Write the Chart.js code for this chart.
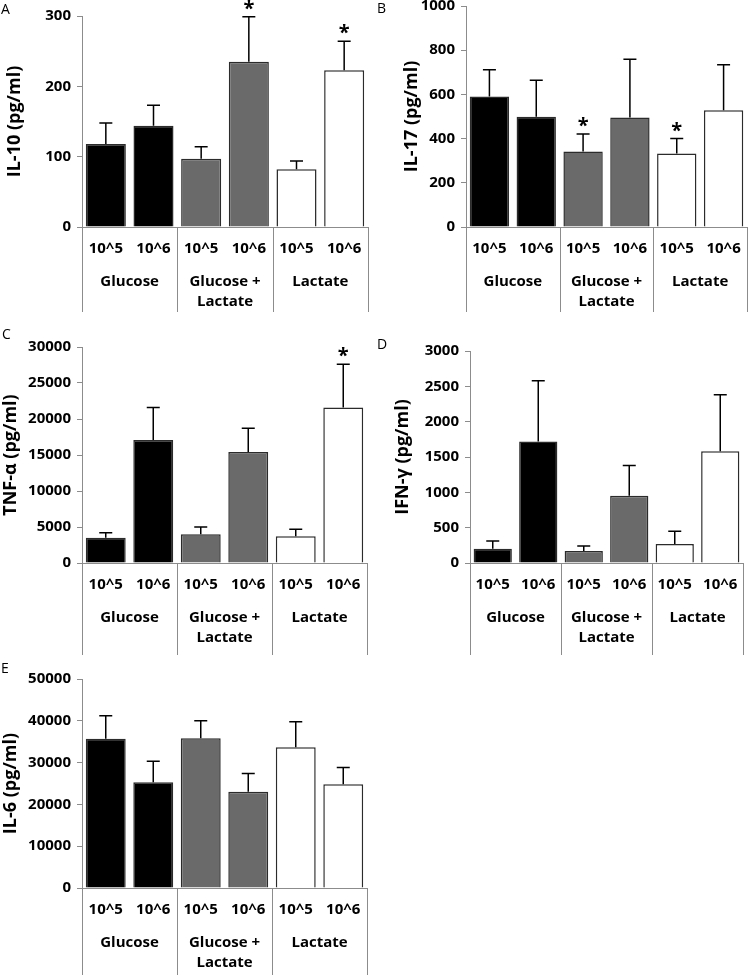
<!DOCTYPE html>
<html>
<head>
<meta charset="utf-8">
<script src="https://cdn.jsdelivr.net/npm/chart.js@4.4.0/dist/chart.umd.min.js"></script>
<style>
  body { margin: 0; background: #fff; }
  #wrap { position: relative; width: 750px; height: 975px; overflow: hidden; }
  canvas { position: absolute; }
</style>
</head>
<body>
<div id="wrap"></div>
<script>
// categories
const doseLabels = ['10^5', '10^6', '10^5', '10^6', '10^5', '10^6'];
const groupNames = [['Glucose'], ['Glucose +', 'Lactate'], ['Lactate']];

// A - IL-10
const il10Mean = [118, 144, 97, 235, 82, 223];
const il10Err  = [30, 29, 17, 64, 12, 41];
const il10Star = [0, 0, 0, 1, 0, 1];

// B - IL-17
const il17Mean = [590, 499, 342, 495, 333, 528];
const il17Err  = [122, 165, 79, 264, 67, 206];
const il17Star = [0, 0, 1, 0, 1, 0];

// C - TNF-a
const tnfMean = [3500, 17100, 4000, 15400, 3700, 21600];
const tnfErr  = [700, 4500, 1000, 3300, 1000, 6000];
const tnfStar = [0, 0, 0, 0, 0, 1];

// D - IFN-g
const ifnMean = [200, 1720, 170, 950, 270, 1580];
const ifnErr  = [110, 860, 70, 430, 180, 800];
const ifnStar = [0, 0, 0, 0, 0, 0];

// E - IL-6
const il6Mean = [35700, 25300, 35800, 23000, 33700, 24800];
const il6Err  = [5500, 5000, 4200, 4400, 6100, 4000];
const il6Star = [0, 0, 0, 0, 0, 0];

const barColors = ['#000000', '#000000', '#6a6a6a', '#6a6a6a', '#ffffff', '#ffffff'];
const axisGray = '#8c8c8c';
const FONT = "'Open Sans', 'DejaVu Sans', sans-serif";

// panel placement on the page
const panels = [
  { letter: 'A', title: 'IL-10 (pg/ml)', mean: il10Mean, err: il10Err, star: il10Star, max: 300, step: 100,
    left: 0, top: 0, w: 375, h: 320, area: { l: 82, r: 368, t: 16, b: 227 }, padL: 4, sep: 85, letterPos: [1, 14] },
  { letter: 'B', title: 'IL-17 (pg/ml)', mean: il17Mean, err: il17Err, star: il17Star, max: 1000, step: 200,
    left: 375, top: 0, w: 375, h: 320, area: { l: 91, r: 372, t: 6, b: 227 }, padL: 26, sep: 85, letterPos: [2, 13] },
  { letter: 'C', title: 'TNF-α (pg/ml)', mean: tnfMean, err: tnfErr, star: tnfStar, max: 30000, step: 5000,
    left: 0, top: 320, w: 375, h: 335, area: { l: 82, r: 367, t: 27, b: 243 }, padL: 0, sep: 92, letterPos: [2, 19] },
  { letter: 'D', title: 'IFN-γ (pg/ml)', mean: ifnMean, err: ifnErr, star: ifnStar, max: 3000, step: 500,
    left: 375, top: 320, w: 375, h: 335, area: { l: 95, r: 368, t: 31, b: 243 }, padL: 17, sep: 92, letterPos: [2, 29] },
  { letter: 'E', title: 'IL-6 (pg/ml)', mean: il6Mean, err: il6Err, star: il6Star, max: 50000, step: 10000,
    left: 0, top: 650, w: 375, h: 325, area: { l: 82, r: 367, t: 29, b: 238 }, padL: 0, sep: 90, letterPos: [1, 23] }
];

// error bars, asterisks, group separators and labels
function makeExtras(p) {
  return {
    id: 'extras',
    afterDatasetsDraw(chart) {
      const ctx = chart.ctx, y = chart.scales.y;
      const bars = chart.getDatasetMeta(0).data;
      ctx.save();
      ctx.strokeStyle = '#000';
      ctx.lineWidth = 1.5;
      bars.forEach((bar, i) => {
        const top = y.getPixelForValue(p.mean[i] + p.err[i]);
        ctx.beginPath();
        ctx.moveTo(bar.x, bar.y);
        ctx.lineTo(bar.x, top);
        ctx.moveTo(bar.x - 6.5, top);
        ctx.lineTo(bar.x + 6.5, top);
        ctx.stroke();
        if (p.star[i]) {
          ctx.fillStyle = '#000';
          ctx.font = 'bold 20px ' + FONT;
          ctx.textAlign = 'center';
          ctx.textBaseline = 'alphabetic';
          ctx.fillText('*', bar.x, top - 2);
        }
      });
      ctx.restore();
    },
    afterDraw(chart) {
      const ctx = chart.ctx, x = chart.scales.x, area = chart.chartArea;
      ctx.save();
      ctx.strokeStyle = axisGray;
      ctx.lineWidth = 1;
      [-0.5, 1.5, 3.5, 5.5].forEach(v => {
        const px = Math.round(x.getPixelForValue(v)) + 0.5;
        ctx.beginPath();
        ctx.moveTo(px, area.bottom);
        ctx.lineTo(px, area.bottom + p.sep);
        ctx.stroke();
      });
      ctx.fillStyle = '#000';
      ctx.font = 'bold 15px ' + FONT;
      ctx.textAlign = 'center';
      ctx.textBaseline = 'middle';
      groupNames.forEach((lines, g) => {
        const cx = x.getPixelForValue(2 * g + 0.5);
        lines.forEach((t, k) => ctx.fillText(t, cx, area.bottom + 55 + 20 * k));
      });
      ctx.font = '14px ' + FONT;
      ctx.textAlign = 'left';
      ctx.textBaseline = 'alphabetic';
      ctx.fillText(p.letter, p.letterPos[0], p.letterPos[1]);
      ctx.restore();
    }
  };
}

const wrap = document.getElementById('wrap');
panels.forEach(p => {
  const c = document.createElement('canvas');
  c.width = p.w; c.height = p.h;
  c.style.left = p.left + 'px';
  c.style.top = p.top + 'px';
  c.style.width = p.w + 'px';
  c.style.height = p.h + 'px';
  wrap.appendChild(c);

  new Chart(c, {
    type: 'bar',
    data: {
      labels: doseLabels,
      datasets: [{
        data: p.mean,
        backgroundColor: barColors,
        borderColor: '#2b2b2b',
        borderWidth: 1.5,
        barPercentage: 0.84,
        categoryPercentage: 1
      }]
    },
    options: {
      responsive: false,
      animation: false,
      layout: { padding: { left: p.padL, right: p.w - p.area.r, top: p.area.t, bottom: 0 } },
      plugins: { legend: { display: false }, tooltip: { enabled: false } },
      scales: {
        x: {
          grid: { display: false, drawTicks: false },
          border: { display: true, color: axisGray, width: 1 },
          ticks: { color: '#000', font: { family: FONT, size: 15, weight: 'bold' }, padding: 13, maxRotation: 0, autoSkip: false },
          afterFit(s) { s.height = p.h - p.area.b; s.paddingLeft = 0; s.paddingRight = 0; }
        },
        y: {
          min: 0,
          max: p.max,
          ticks: { stepSize: p.step, color: '#000', font: { family: FONT, size: 15, weight: 'bold' }, padding: 6,
                   callback: v => String(v) },
          grid: { drawOnChartArea: false, drawTicks: true, tickLength: 5, color: axisGray },
          border: { color: axisGray, width: 1 },
          title: { display: true, text: p.title, color: '#000', font: { family: FONT, size: 18, weight: 'bold' }, padding: 0 },
          afterFit(s) { s.width = p.area.l - p.padL; s.paddingTop = 0; s.paddingBottom = 0; }
        }
      }
    },
    plugins: [makeExtras(p)]
  });
});
</script>
</body>
</html>
